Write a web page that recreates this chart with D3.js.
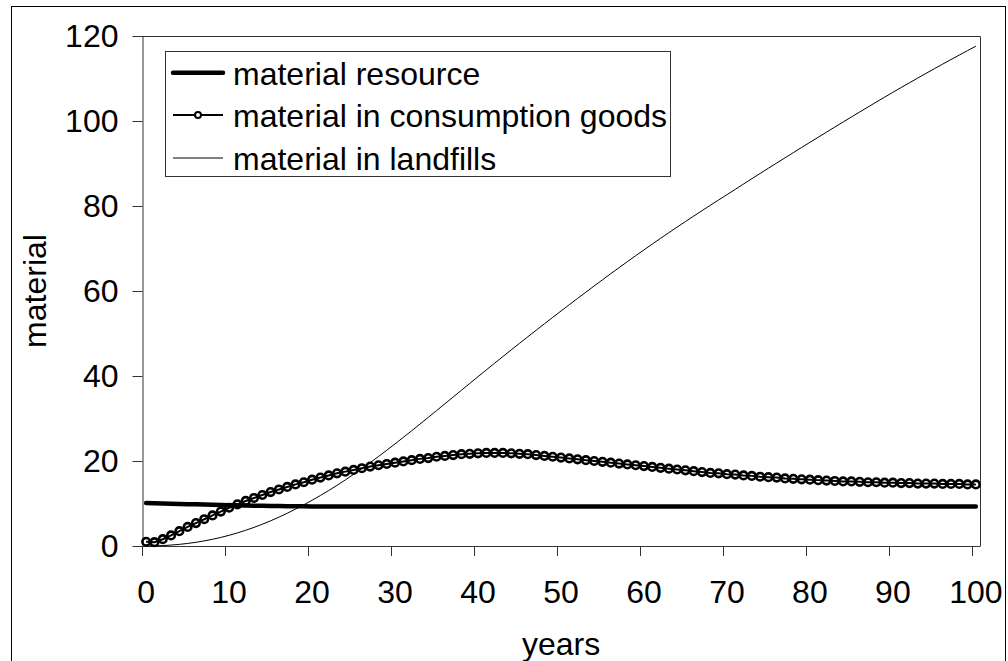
<!DOCTYPE html>
<html>
<head>
<meta charset="utf-8">
<script src="https://cdn.jsdelivr.net/npm/d3@7/dist/d3.min.js"></script>
<style>
  html, body { margin: 0; padding: 0; background: #fff; }
  svg { display: block; font-family: "Liberation Sans", Arial, sans-serif; }
</style>
</head>
<body>
<svg id="chart" width="1008" height="661"></svg>
<script>
// ---- data ----
const years = d3.range(0, 101);
const xTickLabels = [0, 10, 20, 30, 40, 50, 60, 70, 80, 90, 100];
const yTickLabels = [0, 20, 40, 60, 80, 100, 120];
const seriesNames = ["material resource", "material in consumption goods", "material in landfills"];

const materialResource = [
  10.1, 10.05, 10.0, 9.95, 9.9, 9.85, 9.8, 9.75, 9.7, 9.65,
  9.6, 9.56, 9.52, 9.48, 9.45, 9.42, 9.39, 9.37, 9.35, 9.33,
  9.32, 9.31, 9.3, 9.3, 9.3, 9.3, 9.3, 9.3, 9.3, 9.3,
  9.3, 9.3, 9.3, 9.3, 9.3, 9.3, 9.3, 9.3, 9.3, 9.3,
  9.3, 9.3, 9.3, 9.3, 9.3, 9.3, 9.3, 9.3, 9.3, 9.3,
  9.3, 9.3, 9.3, 9.3, 9.3, 9.3, 9.3, 9.3, 9.3, 9.3,
  9.3, 9.3, 9.3, 9.3, 9.3, 9.3, 9.3, 9.3, 9.3, 9.3,
  9.3, 9.3, 9.3, 9.3, 9.3, 9.3, 9.3, 9.3, 9.3, 9.3,
  9.3, 9.3, 9.3, 9.3, 9.3, 9.3, 9.3, 9.3, 9.3, 9.3,
  9.3, 9.3, 9.3, 9.3, 9.3, 9.3, 9.3, 9.3, 9.3, 9.3,
  9.3
];

const consumptionGoods = [
  1.0, 0.9, 1.6, 2.5, 3.5, 4.5, 5.4, 6.3, 7.2, 8.1,
  9.0, 9.8, 10.6, 11.3, 12.0, 12.7, 13.3, 13.9, 14.5, 15.0,
  15.6, 16.1, 16.6, 17.1, 17.5, 17.9, 18.3, 18.7, 19.0, 19.3,
  19.6, 19.9, 20.2, 20.5, 20.7, 21.0, 21.2, 21.4, 21.6, 21.7,
  21.8, 21.9, 21.9, 21.9, 21.8, 21.7, 21.6, 21.4, 21.2, 21.0,
  20.8, 20.6, 20.4, 20.2, 20.0, 19.8, 19.6, 19.4, 19.2, 19.0,
  18.8, 18.6, 18.4, 18.2, 18.0, 17.8, 17.6, 17.4, 17.2, 17.1,
  16.9, 16.8, 16.6, 16.5, 16.3, 16.2, 16.1, 15.9, 15.8, 15.7,
  15.6, 15.5, 15.4, 15.3, 15.2, 15.2, 15.1, 15.0, 15.0, 14.9,
  14.9, 14.8, 14.8, 14.7, 14.7, 14.7, 14.6, 14.6, 14.6, 14.5,
  14.5
];

const landfills = [
  0, 0.03, 0.1, 0.22, 0.38, 0.6, 0.87, 1.2, 1.58, 2.02,
  2.52, 3.08, 3.7, 4.38, 5.12, 5.92, 6.78, 7.7, 8.67, 9.69,
  10.76, 11.88, 13.05, 14.27, 15.54, 16.86, 18.22, 19.62, 21.06, 22.53,
  24.03, 25.56, 27.11, 28.68, 30.26, 31.85, 33.45, 35.05, 36.65, 38.25,
  39.84, 41.43, 43.01, 44.58, 46.14, 47.69, 49.23, 50.76, 52.28, 53.79,
  55.29, 56.78, 58.26, 59.73, 61.19, 62.64, 64.08, 65.5, 66.91, 68.3,
  69.68, 71.04, 72.39, 73.72, 75.04, 76.34, 77.63, 78.91, 80.17, 81.42,
  82.66, 83.92, 85.17, 86.42, 87.66, 88.89, 90.12, 91.34, 92.56, 93.77,
  94.98, 96.18, 97.38, 98.57, 99.76, 100.94, 102.12, 103.29, 104.46, 105.61,
  106.75, 107.88, 109.0, 110.11, 111.21, 112.3, 113.38, 114.45, 115.51, 116.56,
  117.6
];

// ---- layout ----
const svg = d3.select("#chart");
const plot = { left: 142, right: 980, top: 36, bottom: 546 };
const FONT = 32;

// outer frame
svg.append("rect")
  .attr("x", 11.5).attr("y", 6.5)
  .attr("width", 994).attr("height", 700)
  .attr("fill", "none").attr("stroke", "#000").attr("stroke-width", 1);

// scales: category (band) axis with ticks between categories
const x = d3.scaleBand().domain(years).range([plot.left, plot.right]).padding(0);
const xc = d => x(d) + x.bandwidth() / 2;
const y = d3.scaleLinear().domain([0, 120]).range([plot.bottom, plot.top]);

// plot area border (top & right)
svg.append("path")
  .attr("d", `M${plot.left},${plot.top + 0.5}H${plot.right + 0.5}V${plot.bottom}`)
  .attr("fill", "none").attr("stroke", "#333").attr("stroke-width", 1);

// y axis
const yAxis = d3.axisLeft(y).tickValues(yTickLabels).tickSize(10).tickPadding(14).tickSizeOuter(0);
const gy = svg.append("g").attr("transform", `translate(${plot.left + 0.5},0)`).call(yAxis);
gy.selectAll("path, line").attr("stroke", "#333");
gy.selectAll("text").attr("font-size", FONT).attr("fill", "#000")
  .attr("font-family", "Liberation Sans, Arial, sans-serif");

// x axis: tick marks at category boundaries, labels at category centres
const gx = svg.append("g");
gx.append("line")
  .attr("x1", plot.left).attr("x2", plot.right + 0.5)
  .attr("y1", plot.bottom + 0.5).attr("y2", plot.bottom + 0.5)
  .attr("stroke", "#333");
gx.selectAll("line.tick").data(xTickLabels).enter().append("line")
  .attr("class", "tick")
  .attr("x1", d => Math.round(x(d)) + 0.5)
  .attr("x2", d => Math.round(x(d)) + 0.5)
  .attr("y1", plot.bottom).attr("y2", plot.bottom + 10)
  .attr("stroke", "#333");
gx.selectAll("text").data(xTickLabels).enter().append("text")
  .attr("x", d => xc(d))
  .attr("y", 603)
  .attr("text-anchor", "middle")
  .attr("font-size", FONT)
  .text(d => d);

// axis titles
svg.append("text")
  .attr("x", (plot.left + plot.right) / 2).attr("y", 655)
  .attr("text-anchor", "middle").attr("font-size", FONT)
  .text("years");
svg.append("text")
  .attr("transform", `translate(46,${(plot.top + plot.bottom) / 2}) rotate(-90)`)
  .attr("text-anchor", "middle").attr("font-size", FONT)
  .text("material");

// lines
const line = d3.line().x((d, i) => xc(years[i])).y(d => y(d));
const g = svg.append("g");

g.append("path").datum(materialResource)
  .attr("d", line).attr("fill", "none")
  .attr("stroke", "#000").attr("stroke-width", 4.5)
  .attr("stroke-linecap", "round").attr("stroke-linejoin", "round");

g.append("path").datum(consumptionGoods)
  .attr("d", line).attr("fill", "none")
  .attr("stroke", "#000").attr("stroke-width", 2);
g.selectAll("circle.m").data(consumptionGoods).enter().append("circle")
  .attr("class", "m")
  .attr("cx", (d, i) => xc(years[i])).attr("cy", d => y(d))
  .attr("r", 3.8).attr("fill", "none")
  .attr("stroke", "#000").attr("stroke-width", 2.6);

g.append("path").datum(landfills)
  .attr("d", line).attr("fill", "none")
  .attr("stroke", "#000").attr("stroke-width", 1);

// legend
const lg = svg.append("g");
lg.append("rect")
  .attr("x", 165.5).attr("y", 51.5).attr("width", 505).attr("height", 125)
  .attr("fill", "#fff").attr("stroke", "#333").attr("stroke-width", 1);
const rowY = [72.7, 115, 158];
const widths = [4.5, 2, 1];
seriesNames.forEach((name, i) => {
  lg.append("line")
    .attr("x1", 173).attr("x2", 223)
    .attr("y1", rowY[i]).attr("y2", rowY[i])
    .attr("stroke", "#000").attr("stroke-width", widths[i])
    .attr("stroke-linecap", i === 0 ? "round" : "butt");
  if (i === 1) {
    lg.append("circle").attr("cx", 198).attr("cy", rowY[i]).attr("r", 3)
      .attr("fill", "#fff").attr("stroke", "#000").attr("stroke-width", 2);
  }
  lg.append("text")
    .attr("x", 233).attr("y", rowY[i] + 12)
    .attr("font-size", FONT)
    .text(name);
});
</script>
</body>
</html>
